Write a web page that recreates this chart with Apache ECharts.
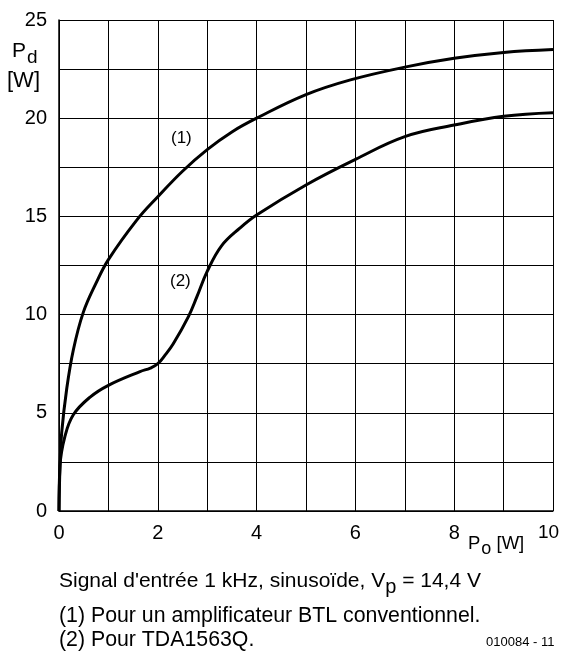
<!DOCTYPE html>
<html>
<head>
<meta charset="utf-8">
<script src="https://cdn.jsdelivr.net/npm/echarts@6/dist/echarts.min.js"></script>
<style>
  html, body { margin: 0; padding: 0; background: #fff; }
  #chart { width: 566px; height: 653px; }
</style>
</head>
<body>
<div id="chart"></div>
<script>
// Po [W] / Pd [W]
const poBtl = [0, 0.02, 0.055, 0.155, 0.29, 0.49, 0.75, 1.0, 1.57, 2.0, 2.5, 3.0, 3.5, 4.0, 5.0, 5.9, 7.0, 8.0, 9.0, 10]
const pdBtl = [0, 2.3, 4.0, 6.2, 8.2, 10.1, 11.6, 12.8, 14.8, 16.0, 17.3, 18.4, 19.3, 20.0, 21.2, 21.95, 22.6, 23.05, 23.35, 23.5]

const poTda = [0, 0.02, 0.12, 0.29, 0.63, 1.0, 1.64, 1.85, 2.0, 2.15, 2.31, 2.62, 2.79, 3.0, 3.29, 3.66, 4.0, 5.0, 6.0, 7.0, 8.0, 9.0, 10]
const pdTda = [0, 2.3, 3.8, 4.9, 5.8, 6.4, 7.1, 7.28, 7.5, 7.95, 8.5, 9.9, 10.9, 12.2, 13.5, 14.4, 15.07, 16.6, 17.9, 19.06, 19.65, 20.1, 20.28]

const xTickLabels = ['0', '2', '4', '6', '8', '10']
const yTickLabels = ['0', '5', '10', '15', '20', '25']

const font = '"Liberation Sans", Arial, sans-serif'
const pairs = (xs, ys) => xs.map((x, i) => [x, ys[i]])

const chart = echarts.init(document.getElementById('chart'))
chart.setOption({
  animation: false,
  backgroundColor: '#fff',
  grid: { left: 59, top: 20, right: 13, bottom: 142 },
  xAxis: {
    type: 'value', min: 0, max: 10, interval: 1,
    axisLine: { lineStyle: { color: '#000', width: 1.5 } },
    axisTick: { show: false },
    splitLine: { show: true, lineStyle: { color: '#000', width: 1 } },
    axisLabel: {
      color: '#000', fontSize: 20, fontFamily: font, margin: 12,
      formatter: v => v === 10 ? '{e|10}' : (xTickLabels.includes(String(v)) ? String(v) : ''),
      rich: { e: { fontSize: 19, fontFamily: font, color: '#000', padding: [0, 9, 0, 0] } }
    }
  },
  yAxis: {
    type: 'value', min: 0, max: 25, interval: 2.5,
    axisLine: { lineStyle: { color: '#000', width: 1.5 } },
    axisTick: { show: false },
    splitLine: { show: true, lineStyle: { color: '#000', width: 1 } },
    axisLabel: {
      color: '#000', fontSize: 20, fontFamily: font, margin: 12,
      formatter: v => yTickLabels.includes(String(v)) ? String(v) : ''
    }
  },
  series: [
    {
      name: '(1)', type: 'line', data: pairs(poBtl, pdBtl),
      smooth: 0.4, symbol: 'none',
      lineStyle: { color: '#000', width: 3 }
    },
    {
      name: '(2)', type: 'line', data: pairs(poTda, pdTda),
      smooth: 0.4, symbol: 'none',
      lineStyle: { color: '#000', width: 3 }
    }
  ],
  graphic: [
    { type: 'text', left: 171, top: 130, style: { text: '(1)', font: '17px ' + font, fill: '#000' } },
    { type: 'text', left: 170, top: 273, style: { text: '(2)', font: '17px ' + font, fill: '#000' } },
    {
      type: 'text', left: 12, top: 41,
      style: {
        text: '{p|P}{s|d}', fill: '#000',
        rich: {
          p: { fontSize: 21, fontFamily: font, fill: '#000' },
          s: { fontSize: 19, fontFamily: font, fill: '#000', padding: [12, 0, 0, 1] }
        }
      }
    },
    { type: 'text', left: 7, top: 70, style: { text: '[W]', font: '22px ' + font, fill: '#000' } },
    {
      type: 'text', left: 468, top: 534,
      style: {
        text: '{p|P}{s|o}{p| [W]}', fill: '#000',
        rich: {
          p: { fontSize: 18.5, fontFamily: font, fill: '#000' },
          s: { fontSize: 18, fontFamily: font, fill: '#000', padding: [11, 0, 0, 1] }
        }
      }
    },
    {
      type: 'text', left: 59, top: 571,
      style: {
        text: "{t|Signal d'entrée 1 kHz, sinusoïde, V}{s|p}{t| = 14,4 V}", fill: '#000',
        rich: {
          t: { fontSize: 21, fontFamily: font, fill: '#000' },
          s: { fontSize: 20, fontFamily: font, fill: '#000', padding: [11, 0, 0, 0] }
        }
      }
    },
    { type: 'text', left: 59, top: 606, style: { text: '(1) Pour un amplificateur BTL conventionnel.', font: '21.3px ' + font, fill: '#000' } },
    { type: 'text', left: 59, top: 630, style: { text: '(2) Pour TDA1563Q.', font: '21.3px ' + font, fill: '#000' } },
    { type: 'text', left: 486, top: 636, style: { text: '010084 - 11', font: '13px ' + font, fill: '#000' } }
  ]
})
</script>
</body>
</html>
